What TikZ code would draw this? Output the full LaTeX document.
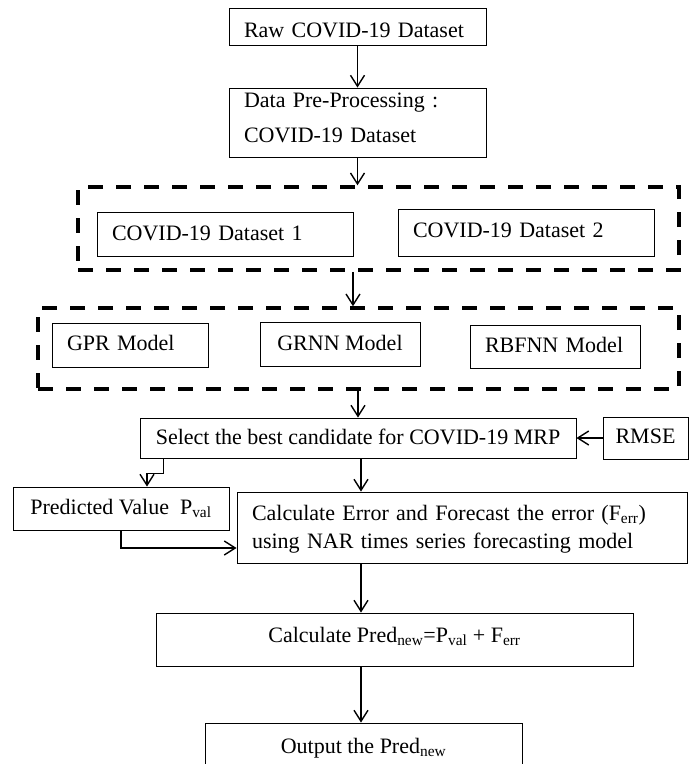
\documentclass[tikz,border=0pt]{standalone}
\usepackage{fontspec}
\setmainfont{Liberation Serif}
\usetikzlibrary{arrows.meta}
\begin{document}
\begin{tikzpicture}[x=1pt,y=-1pt,
  box/.style={draw, line width=0.9pt, rectangle, inner ysep=0pt, inner xsep=15pt, font=\fontsize{22}{26}\selectfont},
  dbox/.style={draw, line width=3.5pt, dash pattern=on 15pt off 13pt, rectangle, inner sep=0pt},
  arr/.style={line width=1.4pt, -{Straight Barb[length=11pt,width=14pt,line width=1.4pt]}}
]
\clip (0,0) rectangle (689,764);
\coordinate (sp1) at (353,0);
\coordinate (sp2) at (361,0);
% dashed groups
\node[dbox, minimum width=601pt, minimum height=83pt] (d1) at (378.5,228.5) {};
\node[dbox, minimum width=641pt, minimum height=81pt] (d2) at (358.5,348.5) {};
% boxes
\node[box, text width=227pt, align=left, minimum height=37pt, text height=21pt, text depth=0pt] (raw) at (357.5,26.5) {Raw COVID-19 Dataset};
\node[box, text width=227pt, align=left, minimum height=69pt, text height=0pt, text depth=31pt, font=\fontsize{22}{35}\selectfont] (data) at (357.5,122.5) {Data Pre-Processing :\\COVID-19 Dataset};
\node[box, text width=226pt, align=left, minimum height=44pt, text height=12pt, text depth=0pt] (ds1) at (225,234) {COVID-19 Dataset 1};
\node[box, text width=226pt, align=left, minimum height=47pt, text height=9pt, text depth=0pt] (ds2) at (526,232.5) {COVID-19 Dataset 2};
\node[box, text width=126pt, align=left, minimum height=44pt, text height=10pt, text depth=0pt] (gpr) at (130,345) {GPR Model};
\node[box, minimum width=160pt, minimum height=44pt, text height=12pt, text depth=0pt] (grnn) at (340,344) {GRNN Model};
\node[box, text width=140pt, align=left, minimum height=43pt, text height=11pt, text depth=0pt] (rbf) at (555,346.5) {RBFNN Model};
\node[box, minimum width=436pt, minimum height=40pt, text height=12pt, text depth=0pt] (sel) at (358,438) {Select the best candidate for COVID-19 MRP};
\node[box, inner xsep=10pt, minimum width=85pt, minimum height=42pt, text height=10pt, text depth=0pt] (rmse) at (645.5,438) {RMSE};
\node[box, inner xsep=8pt, minimum width=216pt, minimum height=43pt, text height=11pt, text depth=0pt] (pred) at (121,508.5) {Predicted Value~~P\textsubscript{val}};
\node[box, text width=420pt, align=left, minimum height=71pt, text height=0pt, text depth=15pt, font=\fontsize{22}{28}\selectfont] (calc) at (462,527.5) {Calculate Error and Forecast the error (F\textsubscript{err})\\using NAR times series forecasting model};
\node[box, minimum width=477pt, minimum height=53pt, text height=5pt, text depth=0pt] (pc) at (394.5,639.5) {Calculate Pred\textsubscript{new}=P\textsubscript{val} + F\textsubscript{err}};
\node[box, minimum width=317pt, minimum height=47pt, text height=13pt, text depth=0pt] (out) at (363.5,746.5) {Output the Pred\textsubscript{new}};
% connectors
\draw[arr] (raw.south) -- (data.north);
\draw[arr] (data.south) -- (data.south |- d1.north);
\draw[arr] (sp1 |- d1.south) -- (sp1 |- d2.north);
\draw[arr] (sel.north |- d2.south) -- (sel.north);
\draw[arr] (rmse.west) -- (sel.east);
\draw[arr] (sp2 |- sel.south) -- (sp2 |- calc.north);
\draw[arr] ([xshift=24pt]sel.south west) -- ++(0,15) -| ([xshift=26pt]pred.north);
\draw[arr] (pred.south) |- ([yshift=-20.5pt]calc.west);
\draw[arr] (sp2 |- calc.south) -- (sp2 |- pc.north);
\draw[arr] (sp2 |- pc.south) -- (sp2 |- out.north);
\end{tikzpicture}
\end{document}
